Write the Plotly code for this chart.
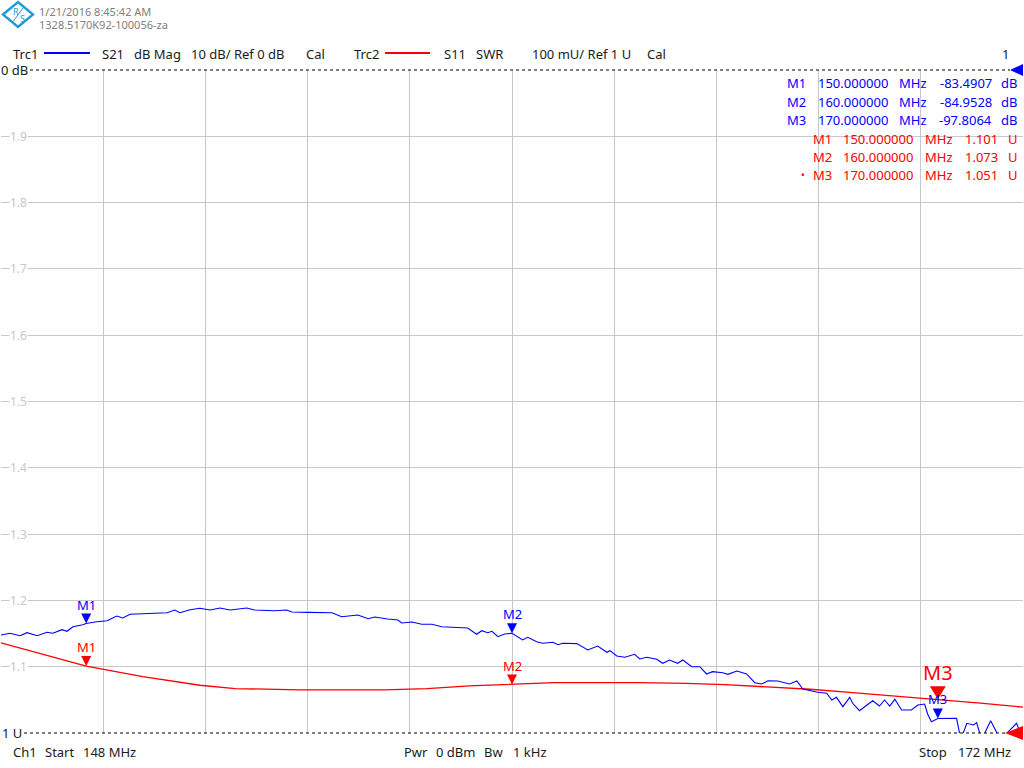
import plotly.graph_objects as go

# ---------------- data ----------------
freq_s21_mhz = [148.00, 148.21, 148.45, 148.61, 148.85, 149.08, 149.22, 149.43, 149.55, 149.69,
                149.92, 150.00, 150.25, 150.49, 150.72, 150.86, 151.03, 151.33, 151.66, 151.90,
                152.08, 152.20, 152.44, 152.67, 152.91, 153.14, 153.38, 153.77, 153.96, 154.43,
                154.71, 154.83, 155.21, 155.54, 155.77, 156.00, 156.24, 156.38, 156.62, 156.78,
                157.08, 157.32, 157.41, 157.65, 157.88, 158.12, 158.35, 158.66, 158.96, 159.17,
                159.29, 159.43, 159.53, 159.67, 159.83, 160.00, 160.25, 160.37, 160.58, 160.72,
                160.96, 161.08, 161.19, 161.52, 161.78, 162.01, 162.23, 162.30, 162.46, 162.65,
                162.88, 163.00, 163.16, 163.40, 163.54, 163.70, 163.89, 164.01, 164.22, 164.41,
                164.57, 164.71, 164.95, 165.07, 165.28, 165.51, 165.70, 165.86, 166.01, 166.24,
                166.52, 166.69, 166.83, 167.18, 167.39, 167.51, 167.62, 167.77, 167.93, 168.00,
                168.16, 168.47, 168.63, 168.75, 168.87, 168.99, 169.15, 169.38, 169.53, 169.69,
                169.76, 169.85, 170.00, 170.44, 170.54, 170.68, 170.84, 170.91, 171.03, 171.24,
                171.47, 171.85, 172.00]
s21_db = [-85.22, -84.96, -85.32, -84.87, -85.32, -84.81, -84.96, -84.42, -84.66, -83.97,
          -83.66, -83.49, -83.21, -83.06, -82.35, -82.65, -82.10, -82.05, -81.95, -81.86,
          -81.45, -81.86, -81.40, -81.19, -81.45, -81.15, -81.45, -81.15, -81.45, -81.55,
          -81.45, -81.75, -81.80, -81.90, -81.86, -82.46, -82.31, -82.20, -82.76, -82.50,
          -82.81, -82.96, -83.41, -83.26, -83.60, -83.60, -83.97, -84.01, -84.16, -85.11,
          -84.57, -84.87, -84.66, -85.47, -85.07, -84.95, -85.97, -85.57, -86.23, -86.47,
          -86.32, -86.68, -86.47, -86.52, -87.48, -86.88, -87.83, -87.58, -88.39, -88.58,
          -88.13, -88.84, -88.58, -88.88, -89.49, -88.99, -89.49, -88.99, -90.00, -90.00,
          -91.10, -90.75, -90.90, -91.15, -90.65, -91.10, -92.41, -92.61, -92.11, -92.16,
          -92.61, -92.16, -93.36, -93.86, -94.01, -95.02, -94.62, -96.03, -94.62, -95.52,
          -96.64, -95.13, -95.93, -95.02, -95.93, -94.92, -96.53, -96.53, -95.78, -95.63,
          -97.13, -98.30, -97.81, -97.78, -101.0, -98.54, -98.79, -98.44, -101.0, -98.14,
          -101.0, -98.54, -101.0]

freq_s11_mhz = [148.0, 149.0, 150.0, 151.33, 152.67, 153.5, 155.0, 157.0, 158.0, 159.0, 160.0,
                161.0, 163.0, 164.1, 165.0, 166.0, 167.0, 168.0, 169.0, 170.0, 171.0, 172.0]
s11_swr = [1.136, 1.118, 1.101, 1.085, 1.072, 1.067, 1.065, 1.065, 1.067, 1.071, 1.073,
           1.076, 1.076, 1.075, 1.073, 1.070, 1.066, 1.061, 1.056, 1.051, 1.045, 1.039]

marker_names = ["M1", "M2", "M3"]
marker_freq_mhz = [150.0, 160.0, 170.0]
marker_s21_db = [-83.4907, -84.9528, -97.8064]
marker_s11_swr = [1.101, 1.073, 1.051]

freq_grid_mhz = [148.0, 150.4, 152.8, 155.2, 157.6, 160.0, 162.4, 164.8, 167.2, 169.6, 172.0]
swr_tick_vals = [1.0, 1.1, 1.2, 1.3, 1.4, 1.5, 1.6, 1.7, 1.8, 1.9, 2.0]
swr_tick_labels = ["1", "1.1", "1.2", "1.3", "1.4", "1.5", "1.6", "1.7", "1.8", "1.9", "2"]

# ---------------- layout helpers ----------------
W, H = 1024, 768
L, R, T, B = 1, 1, 70, 35
PW = W - L - R
PH = H - T - B
FONT = "Noto Sans, Segoe UI, Open Sans, sans-serif"
BLUE = "#0000ff"
RED = "#ff0000"
GRID = "#c8c8c8"


def px(xp):
    return (xp - L) / PW


def py(yp):
    return (H - B - yp) / PH


annotations = []
shapes = []


def text(s, xp, yp, size=13, color="#1a1a1a", anchor="left", bg=None, yanchor="middle"):
    a = dict(text=s, x=px(xp), y=py(yp), xref="paper", yref="paper", showarrow=False,
             xanchor=anchor, yanchor=yanchor, font=dict(family=FONT, size=size, color=color),
             borderpad=0)
    if bg:
        a["bgcolor"] = bg
    annotations.append(a)


fig = go.Figure()
fig.add_trace(go.Scatter(x=freq_s11_mhz, y=s11_swr, mode="lines", yaxis="y",
                         line=dict(color=RED, width=1.3), hoverinfo="skip", showlegend=False))
fig.add_trace(go.Scatter(x=freq_s21_mhz, y=s21_db, mode="lines", yaxis="y2",
                         line=dict(color=BLUE, width=1.1), hoverinfo="skip", showlegend=False))

# ---- left SWR tick labels (gridline interrupted behind them); the end labels are
#      covered by the reference-level labels "0 dB" / "1 U" in the original ----
for v, lab in zip(swr_tick_vals, swr_tick_labels):
    if v in (1.0, 2.0):
        continue
    annotations.append(dict(text=lab, x=px(9), y=v, xref="paper", yref="y", showarrow=False,
                            xanchor="left", yanchor="middle", bgcolor="white", borderpad=0,
                            font=dict(family=FONT, size=12, color="#c8c8c8")))

# ---- reference level labels & dotted ref lines ----
text("0 dB", 0, 70, bg="white")
text("1 U", 1, 733, bg="white")
shapes.append(dict(type="line", xref="paper", yref="paper", x0=px(30), x1=px(1010), y0=1, y1=1,
                   line=dict(color="#000000", width=1, dash="dot"), layer="above"))
shapes.append(dict(type="line", xref="paper", yref="paper", x0=px(24), x1=px(1006), y0=0, y1=0,
                   line=dict(color="#000000", width=1, dash="dot"), layer="above"))

# reference arrows at right edge
shapes.append(dict(type="path", xref="paper", yref="paper", xsizemode="pixel", ysizemode="pixel",
                   xanchor=1, yanchor=1, path="M -13,0 L 0,6 L 0,-6 Z",
                   fillcolor=BLUE, line=dict(color=BLUE, width=0), layer="above"))
shapes.append(dict(type="path", xref="paper", yref="paper", xsizemode="pixel", ysizemode="pixel",
                   xanchor=1, yanchor=0, path="M -18,0 L 0,7 L 0,-7 Z",
                   fillcolor=RED, line=dict(color=RED, width=0), layer="above"))

# ---- markers on traces ----
for i, (name, f) in enumerate(zip(marker_names, marker_freq_mhz)):
    vb = marker_s21_db[i]
    vr = marker_s11_swr[i]
    shapes.append(dict(type="path", xref="x", yref="y2", xsizemode="pixel", ysizemode="pixel",
                       xanchor=f, yanchor=vb, path="M -5,10 L 5,10 L 0,0 Z",
                       fillcolor=BLUE, line=dict(color=BLUE, width=0), layer="above"))
    annotations.append(dict(text=name, x=f, y=vb, xref="x", yref="y2", showarrow=False,
                            xanchor="center", yanchor="bottom", yshift=8,
                            font=dict(family=FONT, size=13, color=BLUE)))
    big = (i == len(marker_names) - 1)
    if big:
        path = "M -8,13 L 8,13 L 0,0 Z"
        fs, ys = 20, 11
    else:
        path = "M -5,10 L 5,10 L 0,0 Z"
        fs, ys = 13, 8
    shapes.append(dict(type="path", xref="x", yref="y", xsizemode="pixel", ysizemode="pixel",
                       xanchor=f, yanchor=vr, path=path,
                       fillcolor=RED, line=dict(color=RED, width=0), layer="above"))
    annotations.append(dict(text=name, x=f, y=vr, xref="x", yref="y", showarrow=False,
                            xanchor="center", yanchor="bottom", yshift=ys,
                            font=dict(family=FONT, size=fs, color=RED)))

# ---- marker table (top right) ----
blue_rows_y = [83, 102, 120]
red_rows_y = [139, 157, 175]
for i, name in enumerate(marker_names):
    yb = blue_rows_y[i]
    text(name, 786, yb, color=BLUE)
    text(f"{marker_freq_mhz[i]:.6f}", 817, yb, color=BLUE)
    text("MHz", 898, yb, color=BLUE)
    text(f"{marker_s21_db[i]:.4f}", 993, yb, color=BLUE, anchor="right")
    text("dB", 1000, yb, color=BLUE)
    yr = red_rows_y[i]
    text(name, 812, yr, color=RED)
    text(f"{marker_freq_mhz[i]:.6f}", 842, yr, color=RED)
    text("MHz", 924, yr, color=RED)
    text(f"{marker_s11_swr[i]:.3f}", 999, yr, color=RED, anchor="right")
    text("U", 1007, yr, color=RED)
text("\u2022", 803, red_rows_y[2], color=RED, size=10, anchor="center")

# ---- header ----
LOGO = "#1e9bd7"
shapes.append(dict(type="path", xref="paper", yref="paper",
                   path=f"M {px(3)},{py(14.5)} L {px(18)},{py(2)} L {px(33)},{py(14.5)} L {px(18)},{py(27)} Z",
                   line=dict(color=LOGO, width=2.4), layer="above"))
shapes.append(dict(type="line", xref="paper", yref="paper", x0=px(13.5), y0=py(21), x1=px(23), y1=py(8),
                   line=dict(color=LOGO, width=1), layer="above"))
text("R", 11.5, 11, size=9, color=LOGO)
text("S", 19, 18.5, size=9, color=LOGO)
text("1/21/2016 8:45:42 AM", 38, 11, size=11, color="#808080")
text("1328.5170K92-100056-za", 38, 24, size=11, color="#808080")

HY = 53.5
text("Trc1", 12, HY)
shapes.append(dict(type="line", xref="paper", yref="paper", x0=px(44), x1=px(90), y0=py(53), y1=py(53),
                   line=dict(color=BLUE, width=2)))
text("S21", 101, HY)
text("dB Mag", 133, HY)
text("10 dB/ Ref 0 dB", 190, HY)
text("Cal", 305, HY)
text("Trc2", 353, HY)
shapes.append(dict(type="line", xref="paper", yref="paper", x0=px(385), x1=px(430), y0=py(53), y1=py(53),
                   line=dict(color=RED, width=2)))
text("S11", 443, HY)
text("SWR", 475, HY)
text("100 mU/ Ref 1 U", 531, HY)
text("Cal", 646, HY)
text("1", 1001, HY)

# ---- footer ----
FY = 752
text("Ch1", 12, FY)
text("Start", 44, FY)
text("148 MHz", 82, FY)
text("Pwr", 403, FY)
text("0 dBm", 435, FY)
text("Bw", 483, FY)
text("1 kHz", 512, FY)
text("Stop", 918, FY)
text("172 MHz", 1012, FY, anchor="right")

fig.update_layout(
    width=W, height=H, autosize=False,
    margin=dict(l=L, r=R, t=T, b=B, pad=0),
    paper_bgcolor="white", plot_bgcolor="white",
    showlegend=False,
    xaxis=dict(range=[148, 172], tickvals=freq_grid_mhz, showgrid=True, gridcolor=GRID, gridwidth=1,
               showticklabels=False, ticks="", zeroline=False, showline=False, fixedrange=True),
    yaxis=dict(range=[1, 2], tickvals=swr_tick_vals[1:-1], showgrid=True, gridcolor=GRID, gridwidth=1,
               showticklabels=False, ticks="", zeroline=False, showline=False, fixedrange=True),
    yaxis2=dict(range=[-100, 0], overlaying="y", side="right", showgrid=False, showticklabels=False,
                ticks="", zeroline=False, showline=False, fixedrange=True),
    annotations=annotations,
    shapes=shapes,
    font=dict(family=FONT, size=13),
)

fig.write_html("out.html", config={"displayModeBar": False},
               post_script="document.body.style.margin='0px';document.body.style.overflow='hidden';")
